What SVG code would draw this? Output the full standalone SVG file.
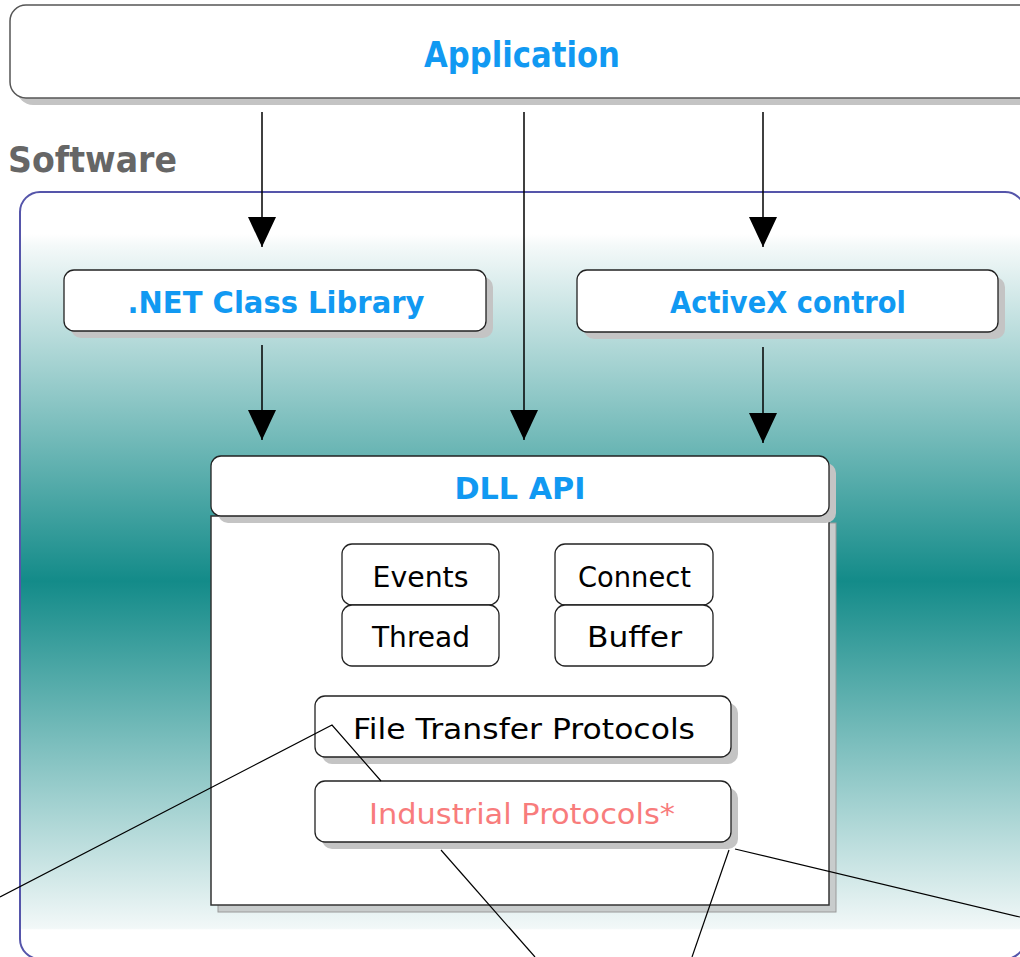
<svg xmlns="http://www.w3.org/2000/svg" width="1020" height="957" viewBox="0 0 1020 957">
<style>
.box{fill:#ffffff;stroke:#222222;stroke-width:1.3}
.shadow{fill:#c4c4c4}
.title{font-family:"DejaVu Sans","Liberation Sans",sans-serif;font-weight:bold;fill:#1199f2;text-anchor:middle}
.lbl{font-family:"DejaVu Sans","Liberation Sans",sans-serif;fill:#000000;text-anchor:middle}
.arrow{stroke:#000000;stroke-width:1.5;fill:none;marker-end:url(#ah)}
.thin{stroke:#000000;stroke-width:1.2;fill:none}
</style>
<defs>
<linearGradient id="bg" gradientUnits="userSpaceOnUse" x1="0" y1="192" x2="0" y2="959">
<stop offset="0" stop-color="#ffffff"/>
<stop offset="0.055" stop-color="#ffffff"/>
<stop offset="0.07" stop-color="#f4f9f9"/>
<stop offset="0.507" stop-color="#138b89"/>
<stop offset="0.96" stop-color="#f2f8f8"/>
<stop offset="0.962" stop-color="#ffffff"/>
<stop offset="1" stop-color="#ffffff"/>
</linearGradient>
<marker id="ah" markerUnits="userSpaceOnUse" markerWidth="30" markerHeight="28" refX="30" refY="14" orient="auto">
<path d="M0,0 L30,14 L0,28 z" fill="#000000"/>
</marker>
</defs>
<rect width="1020" height="957" fill="#ffffff"/>

<g id="application">
<rect class="shadow" x="17" y="12" width="1030" height="93" rx="16"/>
<rect x="10" y="5" width="1030" height="93" rx="16" fill="#ffffff" stroke="#555555" stroke-width="1.5"/>
<text class="title" x="522" y="67" font-size="35" textLength="196" lengthAdjust="spacingAndGlyphs">Application</text>
</g>

<g id="software">
<text x="8" y="172" font-family="DejaVu Sans, Liberation Sans, sans-serif" font-weight="bold" font-size="35" fill="#666666" textLength="169" lengthAdjust="spacingAndGlyphs">Software</text>
<rect x="20" y="192" width="1005" height="767" rx="20" fill="url(#bg)" stroke="#5555aa" stroke-width="2"/>
</g>

<g id="net-class-library">
<rect class="shadow" x="71" y="277" width="422" height="61" rx="10"/>
<rect class="box" x="64" y="270" width="422" height="61" rx="10"/>
<text class="title" x="276" y="313" font-size="30" textLength="297" lengthAdjust="spacingAndGlyphs">.NET Class Library</text>
</g>

<g id="activex-control">
<rect class="shadow" x="584" y="277" width="421" height="62" rx="10"/>
<rect class="box" x="577" y="270" width="421" height="62" rx="10"/>
<text class="title" x="788" y="313" font-size="30" textLength="236" lengthAdjust="spacingAndGlyphs">ActiveX control</text>
</g>

<g id="dll-api">
<rect x="218" y="523" width="618" height="389" fill="#c8cccc" stroke="#9a9a9a" stroke-width="1"/>
<rect x="211" y="516" width="618" height="389" fill="#ffffff" stroke="#333333" stroke-width="1.5"/>
<rect class="shadow" x="218" y="463" width="618" height="60" rx="10"/>
<rect class="box" x="211" y="456" width="618" height="60" rx="10"/>
<text class="title" x="520" y="499" font-size="31" textLength="131" lengthAdjust="spacingAndGlyphs">DLL API</text>
</g>

<g id="events">
<rect class="box" x="342" y="544" width="157" height="61" rx="10"/>
<text class="lbl" x="420.5" y="587" font-size="28" textLength="96" lengthAdjust="spacingAndGlyphs">Events</text>
</g>
<g id="thread">
<rect class="box" x="342" y="605" width="157" height="61" rx="10"/>
<text class="lbl" x="421" y="647" font-size="28" textLength="98" lengthAdjust="spacingAndGlyphs">Thread</text>
</g>
<g id="connect">
<rect class="box" x="555" y="544" width="158" height="61" rx="10"/>
<text class="lbl" x="634.5" y="587" font-size="28" textLength="113" lengthAdjust="spacingAndGlyphs">Connect</text>
</g>
<g id="buffer">
<rect class="box" x="555" y="605" width="158" height="61" rx="10"/>
<text class="lbl" x="634.5" y="647" font-size="28" textLength="95" lengthAdjust="spacingAndGlyphs">Buffer</text>
</g>

<g id="file-transfer-protocols">
<rect class="shadow" x="322" y="703" width="416" height="61" rx="10"/>
<rect class="box" x="315" y="696" width="416" height="61" rx="10"/>
<text class="lbl" x="524" y="739" font-size="28" textLength="342" lengthAdjust="spacingAndGlyphs">File Transfer Protocols</text>
</g>

<g id="industrial-protocols">
<rect class="shadow" x="322" y="788" width="416" height="61" rx="10"/>
<rect class="box" x="315" y="781" width="416" height="61" rx="10"/>
<text class="lbl" x="522" y="824" font-size="28" fill="#f87c7c" style="fill:#f87c7c" textLength="306" lengthAdjust="spacingAndGlyphs">Industrial Protocols*</text>
</g>

<g id="connectors">
<line class="arrow" x1="262" y1="112" x2="262" y2="247"/>
<line class="arrow" x1="524" y1="112" x2="524" y2="440"/>
<line class="arrow" x1="763" y1="112" x2="763" y2="247"/>
<line class="arrow" x1="262" y1="345" x2="262" y2="440"/>
<line class="arrow" x1="763" y1="347" x2="763" y2="443"/>
<polyline class="thin" points="0,897 332,725 381,781"/>
<line class="thin" x1="441" y1="850" x2="535" y2="957"/>
<line class="thin" x1="729" y1="850" x2="692" y2="957"/>
<line class="thin" x1="735" y1="849" x2="1020" y2="917"/>
</g>
</svg>
